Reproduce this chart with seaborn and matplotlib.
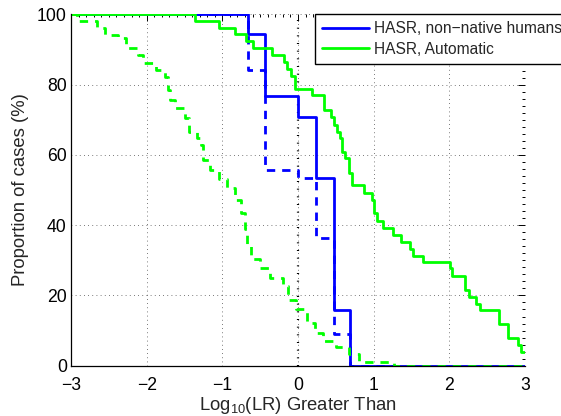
import numpy as np
import pandas as pd
import matplotlib
matplotlib.use("Agg")
import matplotlib.pyplot as plt
import seaborn as sns
from matplotlib.ticker import MultipleLocator

# ---- data (log10 LR threshold, % of cases above) ----
human_x = [-3.0, -0.66, -0.44, 0.0, 0.24, 0.47, 0.69, 3.0]
human_solid = [100, 94.3, 76.7, 70.7, 53.3, 15.8, 0, 0]
human_dashed = [100, 84.1, 55.7, 53.5, 36.4, 9.0, 0, 0]

auto_solid_x = [-3.0, -1.36, -1.04, -0.83, -0.69, -0.59, -0.34, -0.19, -0.14, -0.09,
                -0.04, 0.18, 0.34, 0.43, 0.47, 0.52, 0.55, 0.58, 0.62, 0.67,
                0.72, 0.87, 0.98, 1.0, 1.05, 1.12, 1.25, 1.36, 1.48, 1.52,
                1.65, 2.01, 2.04, 2.21, 2.26, 2.35, 2.41, 2.66, 2.78, 2.91,
                2.95, 3.0]
auto_solid = [100, 98.2, 96.2, 94.3, 92.5, 90.3, 88.4, 86.5, 84.4, 82.4,
              78.7, 77.0, 72.8, 70.7, 68.5, 66.6, 64.7, 60.9, 59.0, 54.8,
              51.4, 49.1, 47.2, 43.4, 41.3, 39.1, 37.2, 35.3, 33.1, 31.2,
              29.5, 27.7, 25.5, 21.5, 19.5, 17.7, 15.8, 11.8, 7.8, 5.9,
              4.0, 4.0]

auto_dashed_x = [-3.0, -2.92, -2.65, -2.55, -2.38, -2.27, -2.12, -2.05, -1.88, -1.76,
                 -1.72, -1.69, -1.62, -1.5, -1.44, -1.33, -1.28, -1.26, -1.16, -1.05,
                 -0.94, -0.83, -0.75, -0.70, -0.67, -0.62, -0.5, -0.37, -0.2, -0.13,
                 -0.02, 0.12, 0.22, 0.33, 0.5, 0.68, 0.8, 1.27, 3.0]
auto_dashed = [100, 98.2, 96.2, 94.1, 93.2, 90.3, 88.4, 86.1, 84.2, 82.1,
               78.5, 75.6, 73.2, 70.4, 66.6, 64.7, 62.8, 58.5, 55.7, 53.1,
               50.5, 47.2, 43.4, 38.8, 34.3, 30.4, 27.7, 24.9, 22.7, 18.7,
               16.0, 12.1, 9.2, 7.1, 5.2, 3.3, 1.0, 0, 0]

legend_labels = ["HASR, non\u2212native humans", "HASR, Automatic"]

# ---- style ----
sns.set_style("white")
plt.rcParams["font.family"] = ["Liberation Sans", "DejaVu Sans"]
plt.rcParams["font.size"] = 12.5

fig = plt.figure(figsize=(5.61, 4.16), dpi=100)
ax = fig.add_axes([71 / 561, 1 - 365.7 / 416, (525 - 71) / 561, (365.7 - 14.3) / 416])

dash = (0, (3.0, 2.5))
lw = 2.0

l1 = sns.lineplot(x=human_x, y=human_solid, ax=ax, color="#0000ff", lw=lw,
                  drawstyle="steps-post", sort=False).lines[-1]
sns.lineplot(x=human_x, y=human_dashed, ax=ax, color="#0000ff", lw=lw,
             drawstyle="steps-post", sort=False, linestyle=dash)
l2 = sns.lineplot(x=auto_solid_x, y=auto_solid, ax=ax, color="#00ff00", lw=lw,
                  drawstyle="steps-post", sort=False).lines[-1]
sns.lineplot(x=auto_dashed_x, y=auto_dashed, ax=ax, color="#00ff00", lw=lw,
             drawstyle="steps-post", sort=False, linestyle=dash)

# vertical reference line at 0
ax.axvline(0, color="k", lw=1.6, ls=(0, (0.45, 3.0)), zorder=1.5)

ax.set_xlim(-3, 3)
ax.set_ylim(0, 100)
ax.xaxis.set_major_locator(MultipleLocator(1))
ax.xaxis.set_minor_locator(MultipleLocator(0.1))
ax.yaxis.set_major_locator(MultipleLocator(20))
ax.yaxis.set_minor_locator(MultipleLocator(2))
ax.set_xticklabels([f"{v:g}".replace("-", "\u2212") for v in ax.get_xticks()])

ax.grid(True, which="major", color="k", ls=(0, (1, 4)), lw=0.6, alpha=0.7)
ax.set_axisbelow(True)

for side in ["top", "right"]:
    ax.spines[side].set_visible(False)
for side in ["left", "bottom"]:
    ax.spines[side].set_color("k")
    ax.spines[side].set_linewidth(0.9)

ax.tick_params(which="both", direction="in", top=True, right=True, colors="k",
               labelsize=12.7, width=0.7)
ax.tick_params(which="major", length=5)
ax.tick_params(which="minor", length=2.5)
ax.tick_params(axis="x", which="major", pad=8)
ax.tick_params(axis="y", which="major", pad=3)

ax.set_xlabel("Log$_{\\mathregular{10}}$(LR) Greater Than", fontsize=13.3, labelpad=1)
ax.set_ylabel("Proportion of cases (%)", fontsize=13.3, labelpad=6)

leg = fig.legend([l1, l2], legend_labels, loc="upper left",
                 bbox_to_anchor=(315 / 561, 1 - 14 / 416), fontsize=11.2,
                 frameon=True, fancybox=False, handlelength=3.0,
                 borderpad=0.45, labelspacing=0.37, handletextpad=0.35,
                 borderaxespad=0)
leg.get_frame().set_edgecolor("k")
leg.get_frame().set_linewidth(1.0)
leg.get_frame().set_alpha(1)

fig.savefig("out.png", dpi=100)
